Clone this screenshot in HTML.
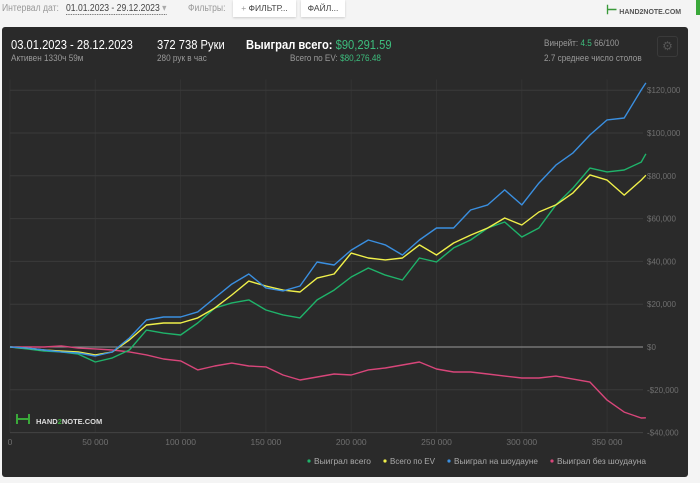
<!DOCTYPE html>
<html><head><meta charset="utf-8">
<style>
body{margin:0;width:700px;height:483px;background:#f4f4f4;font-family:"Liberation Sans","Noto Sans CJK SC",sans-serif;position:relative;overflow:hidden}
.abs{position:absolute;white-space:nowrap}
.c{transform:scaleX(0.86);transform-origin:0 0}
</style></head><body>
<div class="abs c" style="left:2px;top:3px;font-size:10px;color:#999">Интервал дат:</div>
<div class="abs c" style="left:66px;top:3px;font-size:10px;color:#444;border-bottom:1px dotted #666">01.01.2023 - 29.12.2023 <span style="color:#aaa">▾</span></div>
<div class="abs c" style="left:188px;top:3px;font-size:10px;color:#999">Фильтры:</div>
<div class="abs" style="left:233px;top:0;width:63px;height:17px;background:#fff;box-shadow:0 1px 2px #ccc;font-size:8.5px;color:#444;line-height:17px;text-align:center"><span style="color:#999">+</span> ФИЛЬТР...</div>
<div class="abs" style="left:301px;top:0;width:44px;height:17px;background:#fff;box-shadow:0 1px 2px #ccc;font-size:8.5px;color:#444;line-height:17px;text-align:center">ФАЙЛ...</div>
<div class="abs" style="left:606px;top:2px;font-size:7px;color:#555;font-weight:bold"><span style="color:#3a9a3a;font-size:13px">⊢</span> HAND2NOTE.COM</div>
<div class="abs" style="left:696px;top:0;width:4px;height:15px;background:#3aa83a"></div>

<div class="abs" style="left:2px;top:27px;width:686px;height:450px;background:#2a2a2a;border-radius:3px"></div>
<div class="abs c" style="left:11px;top:37px;font-size:13px;color:#fff">03.01.2023 - 28.12.2023</div>
<div class="abs c" style="left:11px;top:53px;font-size:9.5px;color:#999">Активен 1330ч 59м</div>
<div class="abs c" style="left:157px;top:37px;font-size:13px;color:#fff">372 738 Руки</div>
<div class="abs c" style="left:157px;top:53px;font-size:9.5px;color:#999">280 рук в час</div>
<div class="abs c" style="left:246px;top:37px;font-size:13px;color:#fff;font-weight:bold">Выиграл всего: <span style="color:#3dbd7d;font-weight:normal">$90,291.59</span></div>
<div class="abs c" style="left:290px;top:53px;font-size:9.5px;color:#999">Всего по EV: <span style="color:#3dbd7d">$80,276.48</span></div>
<div class="abs c" style="left:544px;top:38px;font-size:9.5px;color:#999">Винрейт: <span style="color:#3dbd7d">4.5</span> 66/100</div>
<div class="abs c" style="left:544px;top:53px;font-size:9.5px;color:#999">2.7 среднее число столов</div>
<div class="abs" style="left:657px;top:36px;width:19px;height:19px;border:1px solid #3a3a3a;border-radius:3px;color:#555;font-size:12px;text-align:center;line-height:19px">⚙</div>

<svg class="abs" style="left:0;top:0" width="700" height="483">
<g id="grid"></g><g id="series"></g><g id="labels"></g>
<g>
<path d="M17 414v10M17 419h12M29 414v10" stroke="#3aa83a" stroke-width="2" fill="none"/>
<text x="36" y="424" fill="#ddd" font-size="7.5" font-weight="bold" font-family="Liberation Sans">HAND<tspan fill="#3aa83a">2</tspan>NOTE.COM</text></g>
</svg>
<script>
const hands=[0,10000,20000,30000,40000,50000,60000,70000,80000,90000,100000,110000,120000,130000,140000,150000,160000,170000,180000,190000,200000,210000,220000,230000,240000,250000,260000,270000,280000,290000,300000,310000,320000,330000,340000,350000,360000,370000,372738];
const wonTotal=[0,-0.9,-1.9,-2.3,-3.3,-7.0,-5.1,-1.4,7.9,6.5,5.6,11.2,18.2,20.6,22.0,17.3,15.0,13.6,22.0,26.6,32.7,36.9,33.6,31.3,41.6,39.7,46.3,50.0,55.6,58.4,51.4,55.6,66.4,74.3,83.6,81.8,82.7,86.4,90.3];
const evTotal=[0,-0.5,-1.4,-1.9,-2.3,-3.7,-2.3,3.3,10.3,11.2,11.2,13.6,18.2,24.3,30.8,28.5,26.6,25.7,32.2,34.1,43.9,41.6,40.7,41.6,47.7,43.0,48.6,52.3,55.6,60.3,57.0,63.1,66.4,72.0,80.4,78.0,71.0,78.0,80.3];
const showdown=[0,-0.5,-1.4,-2.3,-2.8,-4.2,-2.3,4.2,12.6,14.0,14.0,16.4,22.9,29.4,34.1,27.6,26.2,28.5,39.7,38.3,45.3,50.0,47.7,43.0,50.0,55.6,55.6,64.0,66.4,73.4,66.4,76.6,85.0,90.7,99.1,106.1,107.0,120.1,123.4];
const nonShowdown=[0,0,0,0.5,-0.5,-0.9,-1.4,-2.3,-3.7,-5.6,-6.5,-10.7,-8.9,-7.5,-8.9,-9.3,-13.1,-15.4,-14.0,-12.6,-13.1,-10.7,-9.8,-8.4,-7.0,-10.3,-11.7,-11.7,-12.6,-13.6,-14.5,-14.5,-13.6,-15.0,-16.4,-24.8,-30.4,-33.2,-33.1];
const xTicks=[0,50000,100000,150000,200000,250000,300000,350000];
const xTickLabels=["0","50 000","100 000","150 000","200 000","250 000","300 000","350 000"];
const yTicks=[120,100,80,60,40,20,0,-20,-40];
const yTickLabels=["$120,000","$100,000","$80,000","$60,000","$40,000","$20,000","$0","-$20,000","-$40,000"];
const legendNames=["Выиграл всего","Всего по EV","Выиграл на шоудауне","Выиграл без шоудауна"];
const colors=["#1fb36a","#f0f04a","#3a8fe0","#d8467a"];
const legendX=[309,385,449,552], legendW=[57,45,84,89];
const X=h=>10+h*85.3/50000, Y=v=>347-v*2.14;
const NS="http://www.w3.org/2000/svg";
function mk(t,a,p){const e=document.createElementNS(NS,t);for(const k in a)e.setAttribute(k,a[k]);p.appendChild(e);return e;}
const g=document.getElementById('grid'),s=document.getElementById('series'),L=document.getElementById('labels');
xTicks.forEach((t,i)=>{
 const l=mk('line',{x1:X(t),x2:X(t),y1:Y(125),y2:Y(-40),stroke:'#333','stroke-width':1},g);
 
 
 const tx=mk('text',{x:X(t),y:445,'text-anchor':'middle','font-size':8.5,fill:'#6f6f6f','font-family':'Liberation Sans'},L);
 tx.textContent=xTickLabels[i];
 
 
});
yTicks.forEach((t,i)=>{
 const l=mk('line',{x1:10,x2:643,y1:Y(t),y2:Y(t),stroke:t===0?'#999':(t===-40?'#444':'#3a3a3a'),'stroke-width':1},g);
 
 
 const tx=mk('text',{x:647,y:Y(t)+3,'font-size':8,fill:'#6f6f6f','font-family':'Liberation Sans'},L);
 tx.textContent=yTickLabels[i];
 
 
});
[nonShowdown,wonTotal,evTotal,showdown].forEach((d,k)=>{
 const ci=[3,0,1,2][k];
 const p=mk('polyline',{points:d.map((v,i)=>X(hands[i]).toFixed(1)+','+Y(v).toFixed(1)).join(' '),fill:'none',stroke:colors[ci],'stroke-width':1.4,'stroke-linejoin':'round'},s);
 
 
});
legendNames.forEach((n,i)=>{
 const c=mk('circle',{cx:legendX[i],cy:461,r:1.6,fill:colors[i]},L);
 
 
 const t=mk('text',{x:legendX[i]+5,y:464,'font-size':8.5,fill:'#aaa','font-family':'Liberation Sans',textLength:legendW[i],lengthAdjust:'spacingAndGlyphs'},L);
 t.textContent=n;
 
 
});
</script>
</body></html>
